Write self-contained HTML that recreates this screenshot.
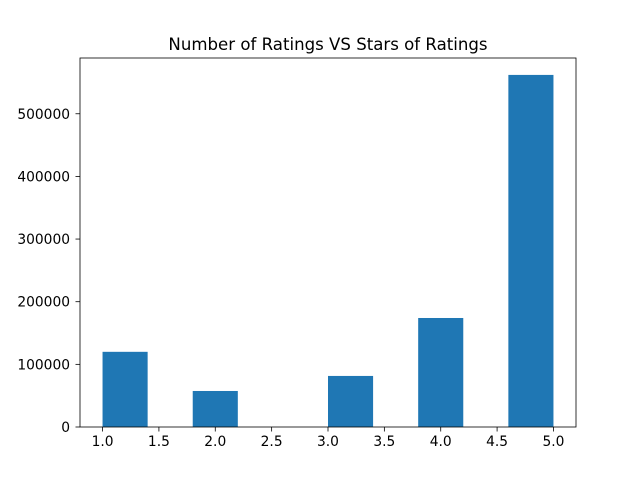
<!DOCTYPE html>
<html><head><meta charset="utf-8"><style>
body{margin:0;background:#fff;}
svg text{font-family:"DejaVu Sans","Liberation Sans",sans-serif;font-size:13.8px;fill:#000;}
</style></head><body>
<svg width="640" height="480">
<rect width="640" height="480" fill="#fff"/>
<text x="328" y="50" text-anchor="middle" style="font-size:16.6px">Number of Ratings VS Stars of Ratings</text>
<g id="bars"></g>
<g id="axes"></g>
</svg>
<script>
const binStarts=[1.0,1.4,1.8,2.2,2.6,3.0,3.4,3.8,4.2,4.6];
const counts=[120000,0,57500,0,0,81500,0,174000,0,562000];
const xTicks=[1.0,1.5,2.0,2.5,3.0,3.5,4.0,4.5,5.0];
const yTicks=[0,100000,200000,300000,400000,500000];
const binWidth=0.4;
const L=80,R=576,T=58,B=427;
const xMin=0.8,xMax=5.2,yMax=589000;
const sx=v=>L+(v-xMin)/(xMax-xMin)*(R-L);
const sy=v=>B-v/yMax*(B-T);
const NS="http://www.w3.org/2000/svg";
const bars=document.getElementById('bars'),axes=document.getElementById('axes');
function mk(tag,attrs,parent){const e=document.createElementNS(NS,tag);for(const k in attrs)e.setAttribute(k,attrs[k]);parent.appendChild(e);return e;}
binStarts.forEach((s,i)=>{if(counts[i]<=0)return;
 const r=mk('rect',{x:sx(s),y:sy(counts[i]),width:sx(s+binWidth)-sx(s),height:B-sy(counts[i]),fill:'#1f77b4'},bars);
 
 
});
const frame=mk('rect',{x:L,y:T,width:R-L,height:B-T,fill:'none',stroke:'#000','stroke-width':0.8},axes);


xTicks.forEach(v=>{const x=sx(v);
 const l=mk('line',{x1:x,x2:x,y1:B,y2:B+4.5,stroke:'#000','stroke-width':0.8},axes);
 
 
 const t=mk('text',{x:x,y:B+19,'text-anchor':'middle'},axes);t.textContent=v.toFixed(1);
 
 
});
yTicks.forEach(v=>{const y=sy(v);
 const l=mk('line',{x1:L-4.5,x2:L,y1:y,y2:y,stroke:'#000','stroke-width':0.8},axes);
 
 
 const t=mk('text',{x:L-10,y:y+5,'text-anchor':'end'},axes);t.textContent=String(v);
 
 
});
</script>
</body></html>
